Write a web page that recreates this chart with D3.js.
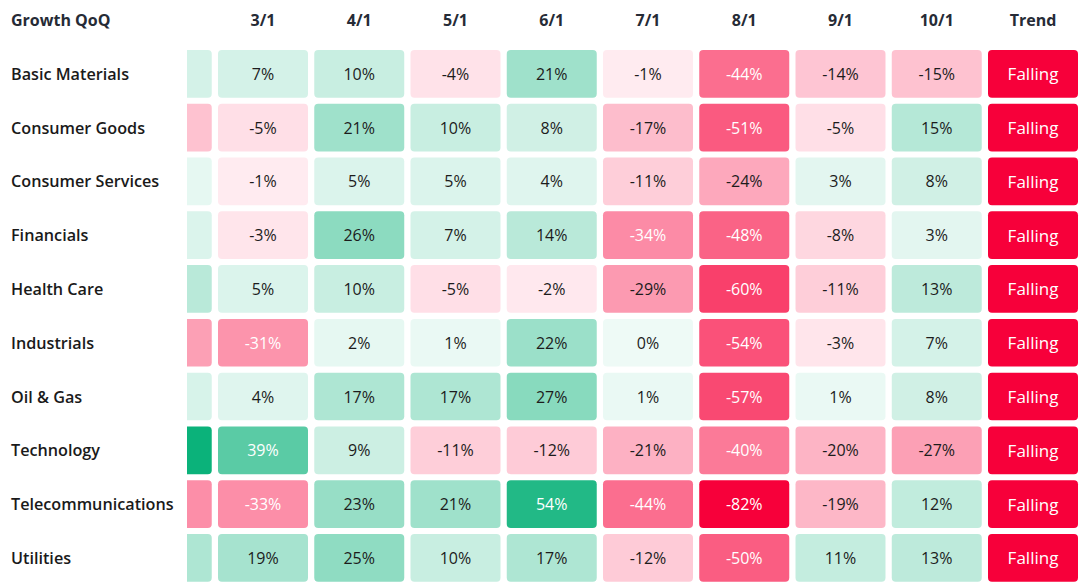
<!DOCTYPE html>
<html>
<head>
<meta charset="utf-8">
<script src="https://cdn.jsdelivr.net/npm/d3@7"></script>
<style>
  html, body { margin: 0; padding: 0; background: #fff; }
  svg { display: block; font-family: "Open Sans", "Noto Sans", sans-serif; }
</style>
</head>
<body>
<svg id="chart" width="1087" height="587"></svg>
<script>
// ---- data ----
const title = "Growth QoQ";
const months = ["2/1", "3/1", "4/1", "5/1", "6/1", "7/1", "8/1", "9/1", "10/1"];
const trendLabel = "Trend";
const sectors = ["Basic Materials", "Consumer Goods", "Consumer Services", "Financials", "Health Care",
                 "Industrials", "Oil & Gas", "Technology", "Telecommunications", "Utilities"];
const basicMaterials     = [7, 7, 10, -4, 21, -1, -44, -14, -15];
const consumerGoods      = [-15, -5, 21, 10, 8, -17, -51, -5, 15];
const consumerServices   = [2, -1, 5, 5, 4, -11, -24, 3, 8];
const financials         = [5, -3, 26, 7, 14, -34, -48, -8, 3];
const healthCare         = [14, 5, 10, -5, -2, -29, -60, -11, 13];
const industrials        = [-27, -31, 2, 1, 22, 0, -54, -3, 7];
const oilGas             = [6, 4, 17, 17, 27, 1, -57, 1, 8];
const technology         = [60, 39, 9, -11, -12, -21, -40, -20, -27];
const telecommunications = [-33, -33, 23, 21, 54, -44, -82, -19, 12];
const utilities          = [17, 19, 25, 10, 17, -12, -50, 11, 13];
const trends = ["Falling", "Falling", "Falling", "Falling", "Falling", "Falling", "Falling", "Falling", "Falling", "Falling"];

const rowsValues = [basicMaterials, consumerGoods, consumerServices, financials, healthCare,
                    industrials, oilGas, technology, telecommunications, utilities];

// ---- layout ----
const svg = d3.select("#chart");
const columns = months.concat([trendLabel]);
const clipLeft = 187;

const x = d3.scaleBand()
  .domain(columns)
  .range([121.75, 1078])
  .paddingInner(0.065)
  .paddingOuter(0);

const y = d3.scaleBand()
  .domain(sectors)
  .range([50, 581.7])
  .paddingInner(0.113)
  .paddingOuter(0);

const visible = c => x(c) + x.bandwidth() / 2 > clipLeft;

const allVals = rowsValues.flat();
const minV = d3.min(allVals), maxV = d3.max(allVals);
const negColor = d3.scaleLinear().domain([minV, 0]).range(["#f7003a", "#ffeef2"]).interpolate(d3.interpolateRgb).clamp(true);
const posColor = d3.scaleLinear().domain([0, maxV]).range(["#eefaf6", "#0bb27a"]).interpolate(d3.interpolateRgb).clamp(true);
const color = v => v < 0 ? negColor(v) : posColor(v);
const textColor = v => Math.abs(v) >= 30 ? "#ffffff" : "#1c1c1c";

// clip for the scrolled grid
svg.append("defs").append("clipPath").attr("id", "gridClip")
  .append("rect").attr("x", clipLeft).attr("y", 0).attr("width", 1087 - clipLeft).attr("height", 587);

// header
svg.append("text")
  .attr("x", 11).attr("y", 20)
  .attr("dominant-baseline", "central")
  .attr("font-size", 16).attr("font-weight", 700).attr("fill", "#262b36")
  .text(title);

const grid = svg.append("g").attr("clip-path", "url(#gridClip)");

grid.selectAll("text.head")
  .data(columns.filter(visible))
  .join("text")
  .attr("class", "head")
  .attr("x", d => x(d) + x.bandwidth() / 2)
  .attr("y", 20)
  .attr("text-anchor", "middle")
  .attr("dominant-baseline", "central")
  .attr("font-size", 16).attr("font-weight", 700).attr("fill", "#262b36")
  .text(d => d);

// row labels
svg.selectAll("text.rowlab")
  .data(sectors)
  .join("text")
  .attr("class", "rowlab")
  .attr("x", 11)
  .attr("y", d => y(d) + y.bandwidth() / 2)
  .attr("dominant-baseline", "central")
  .attr("font-size", 16.2).attr("font-weight", 600).attr("fill", "#1a1a1a")
  .text(d => d);

// cells
const cells = [];
sectors.forEach((s, i) => {
  months.forEach((m, j) => cells.push({ sector: s, col: m, value: rowsValues[i][j] }));
});

const cellG = grid.selectAll("g.cell")
  .data(cells)
  .join("g")
  .attr("class", "cell")
  .attr("transform", d => `translate(${x(d.col)},${y(d.sector)})`);

cellG.append("rect")
  .attr("width", x.bandwidth())
  .attr("height", y.bandwidth())
  .attr("rx", 4).attr("ry", 4)
  .attr("fill", d => color(d.value));

cellG.filter(d => visible(d.col)).append("text")
  .attr("x", x.bandwidth() / 2)
  .attr("y", y.bandwidth() / 2)
  .attr("text-anchor", "middle")
  .attr("dominant-baseline", "central")
  .attr("font-size", 16)
  .attr("fill", d => textColor(d.value))
  .text(d => String(d.value) + "%");

// trend column
const trendG = grid.selectAll("g.trend")
  .data(sectors.map((s, i) => ({ sector: s, trend: trends[i] })))
  .join("g")
  .attr("class", "trend")
  .attr("transform", d => `translate(${x(trendLabel)},${y(d.sector)})`);

trendG.append("rect")
  .attr("width", x.bandwidth())
  .attr("height", y.bandwidth())
  .attr("rx", 4).attr("ry", 4)
  .attr("fill", d => d.trend === "Falling" ? "#f7003a" : "#0bb27a");

trendG.append("text")
  .attr("x", x.bandwidth() / 2)
  .attr("y", y.bandwidth() / 2)
  .attr("text-anchor", "middle")
  .attr("dominant-baseline", "central")
  .attr("font-size", 17)
  .attr("fill", "#ffffff")
  .text(d => d.trend);
</script>
</body>
</html>
